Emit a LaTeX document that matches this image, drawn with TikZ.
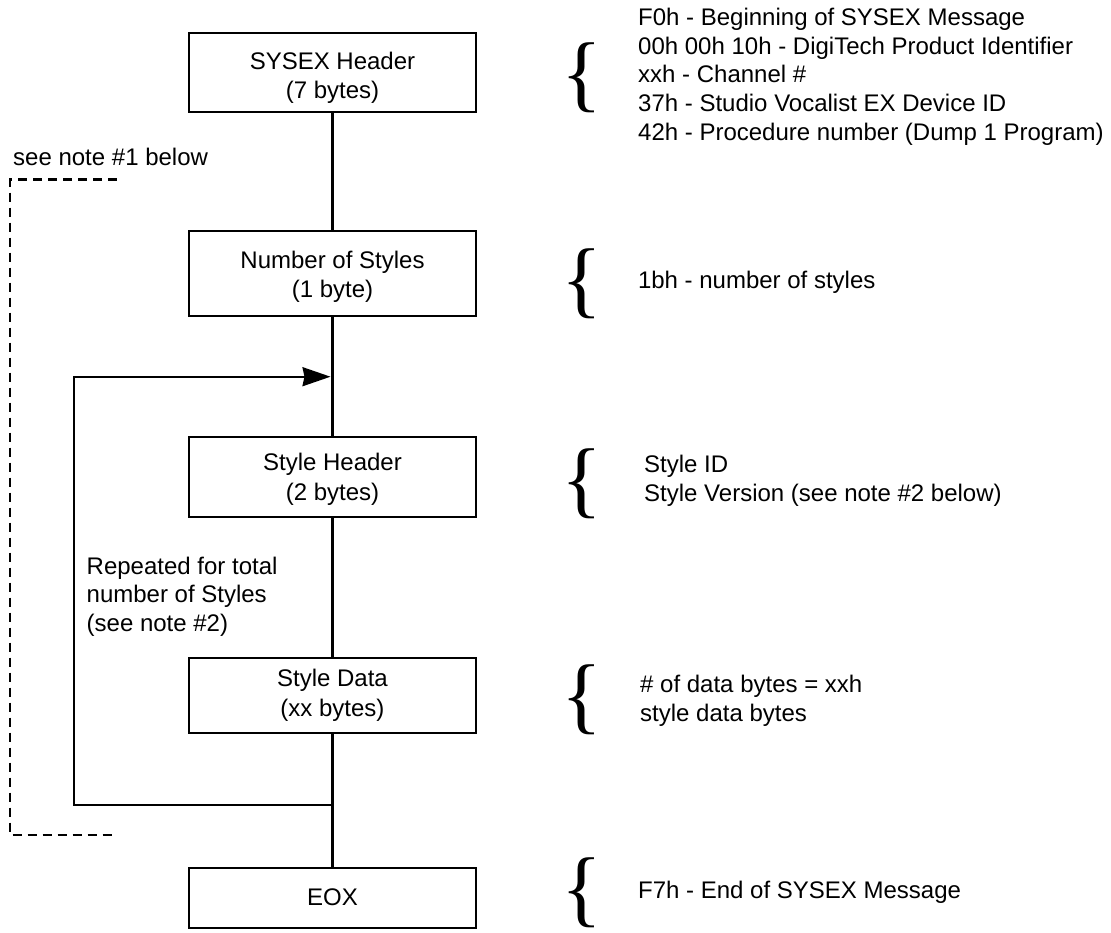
\documentclass[tikz,border=0pt]{standalone}
\usepackage{fontspec}
\setmainfont{Liberation Sans}
\newfontfamily\bracefont{Liberation Serif}
\usetikzlibrary{arrows.meta}
\tikzset{
  blk/.style={draw=black, line width=2.2pt, minimum width=286.4pt, inner sep=0pt, fill=white},
  bt/.style={anchor=base, inner sep=0pt, font=\fontsize{24}{29}\selectfont},
  rt/.style={anchor=base west, inner sep=0pt, font=\fontsize{24}{29}\selectfont},
  conn/.style={line width=2.2pt},
  dashedline/.style={line width=2.6pt, dash pattern=on 9pt off 6pt},
  curly/.style={anchor=base west, inner sep=0pt, font=\bracefont\fontsize{84.7}{90}\selectfont},
}
\begin{document}
\begin{tikzpicture}[x=1pt, y=-1pt]
\useasboundingbox (0,0) rectangle (1111,932);
\fill[white] (0,0) rectangle (1111,932);

% boxes
\node[blk, minimum height=78.4pt] (b1) at (332.5,72.5) {};
\node[blk, minimum height=85.6pt] (b2) at (332.5,273.5) {};
\node[blk, minimum height=80.6pt] (b3) at (332.5,477) {};
\node[blk, minimum height=75.6pt] (b4) at (332.5,695.5) {};
\node[blk, minimum height=60pt]   (b5) at (332.5,898) {};

% box texts
\node[bt] (b1a) at (332.5,69) {SYSEX Header};
\node[bt] (b1b) at (332.5,98) {(7 bytes)};
\node[bt] (b2a) at (332.5,268.3) {Number of Styles};
\node[bt] (b2b) at (332.5,297) {(1 byte)};
\node[bt] (b3a) at (332.5,470.7) {Style Header};
\node[bt] (b3b) at (332.5,500) {(2 bytes)};
\node[bt] (b4a) at (332.5,686.7) {Style Data};
\node[bt] (b4b) at (332.5,716.5) {(xx bytes)};
\node[bt] (b5a) at (332.5,905.7) {EOX};

% vertical connectors
\draw[conn] (b1.south) -- (b2.north);
\draw[conn] (b2.south) -- (b3.north);
\draw[conn] (b3.south) -- (b4.north);
\draw[conn] (b4.south) -- (b5.north);

% loop
\coordinate (jin) at (332.5,376.7);
\coordinate (jout) at (332.5,805);
\coordinate (lb) at (74,805);
\draw[conn, -{Stealth[length=28pt,width=19pt,inset=2pt]}, shorten >=2pt]
  (jout) -- (lb) |- (jin);

% dashed bracket
\coordinate (d1) at (116.7,179.3);
\coordinate (d2) at (10,179.3);
\coordinate (d3) at (10,835);
\coordinate (d4) at (116.7,835);
\draw[dashedline] (d1) -- (d2) -- (d3) -- (d4);

% left texts
\node[rt] (n1) at (13,165) {see note \#1 below};
\node[rt] (r1) at (86.5,574) {Repeated for total};
\node[rt] (r2) at (86.5,602.7) {number of Styles};
\node[rt] (r3) at (86.5,631.7) {(see note \#2)};

% braces
\node[curly] (c1) at (561.5,101.7) {\{};
\node[curly] (c2) at (561.5,307) {\{};
\node[curly] (c3) at (561.5,507) {\{};
\node[curly] (c4) at (561.5,723.4) {\{};
\node[curly] (c5) at (561.5,916.5) {\{};

% right texts
\node[rt] (s1) at (638,25.7) {F0h - Beginning of SYSEX Message};
\node[rt] (s2) at (638,54.2) {00h 00h 10h - DigiTech Product Identifier};
\node[rt] (s3) at (638,82.8) {xxh - Channel \#};
\node[rt] (s4) at (638,111.5) {37h - Studio Vocalist EX Device ID};
\node[rt] (s5) at (638,140) {42h - Procedure number (Dump 1 Program)};
\node[rt] (t1) at (637.8,288.3) {1bh - number of styles};
\node[rt] (h1) at (644,472.3) {Style ID};
\node[rt] (h2) at (644,501.5) {Style Version (see note \#2 below)};
\node[rt] (d1t) at (640,692.7) {\# of data bytes = xxh};
\node[rt] (d2t) at (640,721.7) {style data bytes};
\node[rt] (e1) at (638,898.3) {F7h - End of SYSEX Message};
\end{tikzpicture}
\end{document}
